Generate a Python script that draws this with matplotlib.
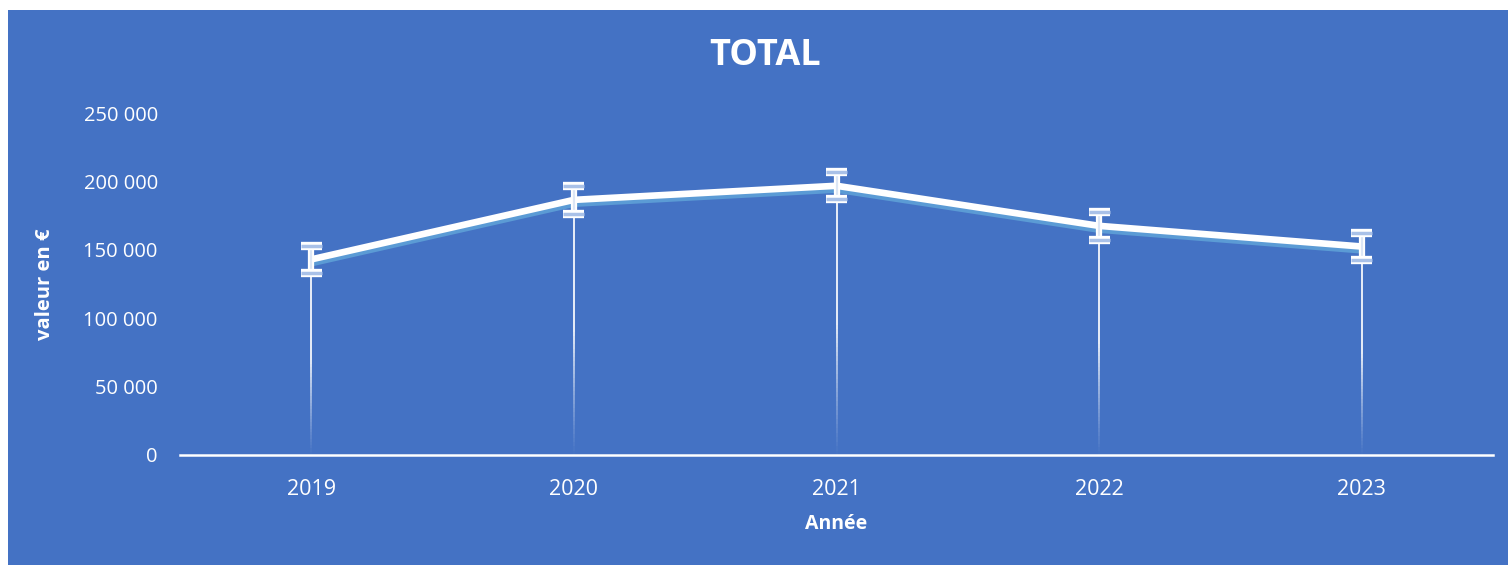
import numpy as np
import matplotlib
matplotlib.use("Agg")
import matplotlib.pyplot as plt
from matplotlib.collections import LineCollection
import matplotlib.patheffects as pe
import matplotlib.transforms as mtransforms
from matplotlib.patches import Rectangle

years = ["2019", "2020", "2021", "2022", "2023"]
values = [143000, 186500, 196800, 167500, 152400]
errors = [10000, 10000, 10000, 10000, 10000]
yticks = [0, 50000, 100000, 150000, 200000, 250000]
ytick_labels = ["0", "50 000", "100 000", "150 000", "200 000", "250 000"]
title = "TOTAL"
xlabel = "Année"
ylabel = "valeur en €"

BG = "#4472C4"
SHADOW = "#5B9BD5"
plt.rcParams['font.family'] = ['Open Sans', 'DejaVu Sans']

fig = plt.figure(figsize=(15.08, 5.65), dpi=100, facecolor="white")
fig.patches.append(Rectangle((8 / 1508, 0), 1, (565 - 10) / 565,
                             transform=fig.transFigure, facecolor=BG,
                             edgecolor="none", zorder=-10))

ax = fig.add_axes([180 / 1508, (565 - 455) / 565, 1313 / 1508, 342 / 565])
ax.set_facecolor("none")
ax.set_zorder(5)
x = np.arange(len(years))
ax.set_xlim(-0.5, len(years) - 0.5)
ax.set_ylim(0, 250000)

# drop lines with gradient
segs, cols = [], []
n = 60
for xi, v in zip(x, values):
    ys = np.linspace(v, 0, n + 1)
    for k in range(n):
        segs.append([(xi, ys[k]), (xi, ys[k + 1])])
        t = k / n
        a = 1.0 if t < 0.5 else max(0.0, 1 - (t - 0.5) / 0.5) ** 1.2
        cols.append((1, 1, 1, a * 0.95))
ax.add_collection(LineCollection(segs, colors=cols, linewidths=1.3, zorder=2))

# shadow line
shadow_tr = ax.transData + mtransforms.ScaledTranslation(0, -4 / 100, fig.dpi_scale_trans)
ax.plot(x, values, color=SHADOW, lw=4.5, transform=shadow_tr, zorder=3,
        solid_capstyle="round", solid_joinstyle="round")
# main line
ax.plot(x, values, color="white", lw=4.8, zorder=4,
        solid_capstyle="butt", solid_joinstyle="round")

# error bars
eb = ax.errorbar(x, values, yerr=errors, fmt="none", ecolor="#DCE6F5",
                 elinewidth=1.6, capsize=7.5, capthick=2.5, zorder=5)
for artist in list(eb.lines[2]):
    artist.set_path_effects([pe.Stroke(linewidth=4.5, foreground="white"), pe.Normal()])
for artist in eb.lines[1]:
    artist.set_path_effects([pe.Stroke(linewidth=6, foreground="white"),
                             pe.Stroke(linewidth=2.5, foreground="#A9C1E8")])

for s in ["top", "right", "left"]:
    ax.spines[s].set_visible(False)
ax.spines["bottom"].set_color("white")
ax.spines["bottom"].set_linewidth(1.8)
ax.spines["bottom"].set_zorder(6)

ax.set_xticks(x)
ax.set_xticklabels(years)
ax.set_yticks(yticks)
ax.set_yticklabels(ytick_labels)
ax.tick_params(axis="both", length=0, colors="white", labelsize=14.5)
ax.tick_params(axis="x", pad=17)
ax.tick_params(axis="y", pad=16)
for lab in ax.get_xticklabels():
    lab.set_fontsize(15.5)

fig.text(836 / 1508, 1 - 524 / 565, xlabel, ha="center", va="center",
         color="white", fontsize=14, fontweight="bold")
fig.text(45 / 1508, 1 - 284 / 565, ylabel, ha="center", va="center",
         rotation=90, color="white", fontsize=14.5, fontweight="bold")
fig.text(765 / 1508, 1 - 56 / 565, title, ha="center", va="center",
         color="white", fontsize=26, fontweight="bold")

fig.savefig("out.png", dpi=100, facecolor="white")
